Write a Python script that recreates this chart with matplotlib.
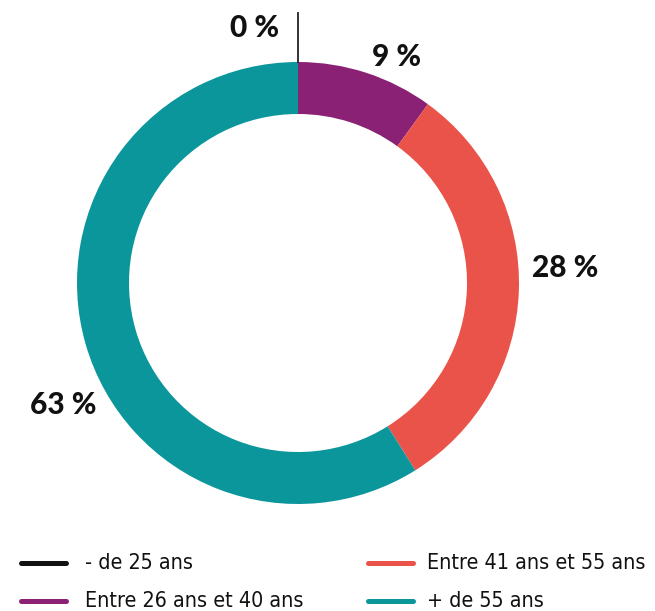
import numpy as np
import matplotlib.pyplot as plt

# age groups (share of pie, labels as printed)
categories = ["- de 25 ans", "Entre 26 ans et 40 ans", "Entre 41 ans et 55 ans", "+ de 55 ans"]
values = [0.0, 10.0, 31.1, 58.9]
pct_labels = ["0 %", "9 %", "28 %", "63 %"]
colors = ["#111111", "#8A2174", "#EA5349", "#0A969B"]

W, H = 655, 611
fig = plt.figure(figsize=(W / 100, H / 100), dpi=100)
ax = fig.add_axes([0, 0, 1, 1])

cx, cy, R, ring = 298, H - 283, 221, 52
wedges, _ = ax.pie(values, colors=colors, startangle=90, counterclock=False,
                   radius=R, center=(cx, cy), frame=True,
                   wedgeprops=dict(width=ring, linewidth=0))
ax.set_xlim(0, W)
ax.set_ylim(0, H)
ax.set_aspect("equal")
ax.axis("off")

# leader line for the empty slice
t0 = np.deg2rad((wedges[0].theta1 + wedges[0].theta2) / 2)
ax.plot([cx + R * np.cos(t0), cx + (R + 49) * np.cos(t0)],
        [cy + R * np.sin(t0), cy + (R + 49) * np.sin(t0)], color="#222222", lw=1.3)

# percentage labels
label_pos = [(255, 28), (397, 57), (565, 268), (63, 405)]
for txt, (x, y) in zip(pct_labels, label_pos):
    ax.text(x, H - y, txt, ha="center", va="center", fontsize=21.5,
            fontweight=900, family="Lato", color="#111111")

# legend, two columns (handle start, text start)
leg_x = [(18, 85), (365, 427)]
leg_y = [563, 601]
for i, (name, col) in enumerate(zip(categories, colors)):
    c, r = divmod(i, 2)
    (x0, xt), y0 = leg_x[c], H - leg_y[r]
    ax.plot([x0 + 2.5, x0 + 47.5], [y0, y0], color=col, lw=3.6, solid_capstyle="round")
    ax.text(xt, y0, name, ha="left", va="center", fontsize=15.4,
            family="DejaVu Sans", fontstretch="condensed", color="#111111")

fig.savefig("out.png", dpi=100)
